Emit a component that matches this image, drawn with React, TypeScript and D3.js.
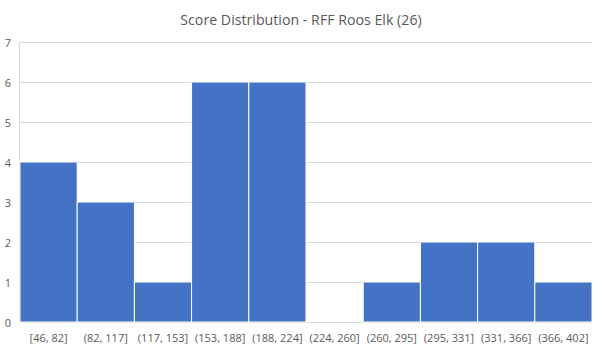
import React from "react";
import * as d3 from "d3";

// bins and counts
const bins = [
  "[46, 82]",
  "(82, 117]",
  "(117, 153]",
  "(153, 188]",
  "(188, 224]",
  "(224, 260]",
  "(260, 295]",
  "(295, 331]",
  "(331, 366]",
  "(366, 402]",
];
const counts = [4, 3, 1, 6, 6, 0, 1, 2, 2, 1];
const yTicks = [0, 1, 2, 3, 4, 5, 6, 7];
const title = "Score Distribution - RFF Roos Elk (26)";

export default function App() {
  const width = 602;
  const height = 352;
  const margin = { top: 42, right: 10, bottom: 30, left: 20 };
  const innerW = width - margin.left - margin.right;
  const innerH = height - margin.top - margin.bottom;

  const x = d3.scaleBand().domain(bins).range([0, innerW]).padding(0);
  const y = d3.scaleLinear().domain([0, 7]).range([innerH, 0]);

  const font = "'Open Sans', 'Liberation Sans', sans-serif";

  return (
    <svg
      width={width}
      height={height}
      style={{ position: "absolute", left: 0, top: 0, background: "#fff" }}
    >
      <text
        x={width / 2}
        y={19}
        textAnchor="middle"
        dominantBaseline="central"
        fontFamily={font}
        fontSize={14.2}
        fill="#595959"
      >
        {title}
      </text>
      <g transform={`translate(${margin.left},${margin.top})`}>
        {yTicks.map((t) => (
          <g key={t}>
            <line
              x1={0}
              x2={innerW}
              y1={Math.round(y(t)) + 0.5}
              y2={Math.round(y(t)) + 0.5}
              stroke="#d9d9d9"
            />
            <text
              x={-9}
              y={y(t)}
              textAnchor="end"
              dominantBaseline="central"
              fontFamily={font}
              fontSize={11}
              fill="#595959"
            >
              {t}
            </text>
          </g>
        ))}
        <line x1={-0.5} x2={-0.5} y1={0} y2={innerH} stroke="#d9d9d9" />
        {bins.map((b, i) => (
          <rect
            key={b}
            x={x(b)}
            y={y(counts[i])}
            width={x.bandwidth()}
            height={innerH - y(counts[i])}
            fill="#4472c4"
            stroke="#ffffff"
            strokeWidth={counts[i] > 0 ? 1 : 0}
          />
        ))}
        {bins.map((b) => (
          <text
            key={b}
            x={(x(b) ?? 0) + x.bandwidth() / 2}
            y={innerH + 15}
            textAnchor="middle"
            dominantBaseline="central"
            fontFamily={font}
            fontSize={11}
            fill="#595959"
          >
            {b}
          </text>
        ))}
      </g>
    </svg>
  );
}
